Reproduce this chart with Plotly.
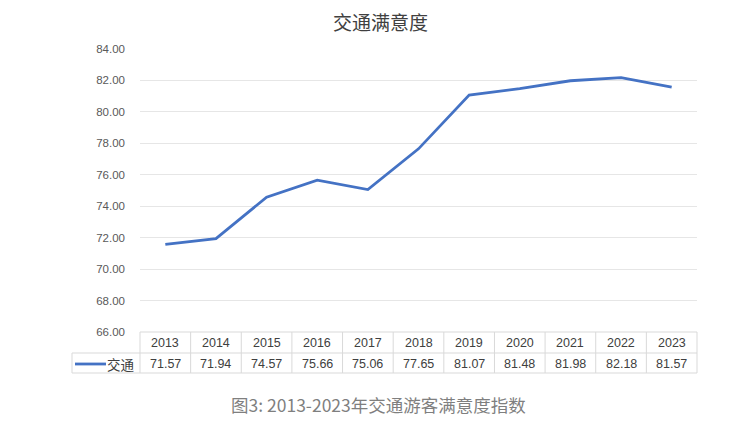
import plotly.graph_objects as go

years = ["2013", "2014", "2015", "2016", "2017", "2018", "2019", "2020", "2021", "2022", "2023"]
values = [71.57, 71.94, 74.57, 75.66, 75.06, 77.65, 81.07, 81.48, 81.98, 82.18, 81.57]
series_name = "交通"
y_ticks = [66, 68, 70, 72, 74, 76, 78, 80, 82, 84]
title_text = "交通满意度"
caption_text = "图3: 2013-2023年交通游客满意度指数"

LINE = "#4472C4"
BORDER = "#d9d9d9"
TXT = "#404040"
CJK = "Noto Sans CJK SC"
NUM = "Liberation Sans"

OFF = 8  # page body margin
W, H = 751 - OFF, 426 - OFF
# plot area in page pixels
PL, PR, PT, PB = 140, 697, 49, 332
L, T = PL - OFF, PT - OFF
R = W - (PR - OFF)
B = H - (PB - OFF)
plot_h = PB - PT
plot_w = PR - PL


def py(p):
    return (PB - p) / plot_h


def px(p):
    return (p - PL) / plot_w


fig = go.Figure()
fig.add_trace(go.Scatter(x=years, y=values, mode="lines", name=series_name,
                         line=dict(color=LINE, width=2.8), showlegend=False,
                         hoverinfo="x+y"))

shapes = []
n = len(years)
y_top, y_mid, y_bot = 0, py(353), py(373)
legend_left = px(72)
shapes.append(dict(type="line", xref="paper", yref="paper", x0=0, x1=1, y0=y_top, y1=y_top,
                   line=dict(color=BORDER, width=1)))
for yy in (y_mid, y_bot):
    shapes.append(dict(type="line", xref="paper", yref="paper", x0=legend_left, x1=1, y0=yy, y1=yy,
                       line=dict(color=BORDER, width=1)))
for i in range(n + 1):
    xx = i / n
    shapes.append(dict(type="line", xref="paper", yref="paper", x0=xx, x1=xx, y0=y_top, y1=y_bot,
                       line=dict(color=BORDER, width=1)))
shapes.append(dict(type="line", xref="paper", yref="paper", x0=legend_left, x1=legend_left,
                   y0=y_mid, y1=y_bot, line=dict(color=BORDER, width=1)))
shapes.append(dict(type="line", xref="paper", yref="paper", x0=px(75), x1=px(106),
                   y0=py(364), y1=py(364), line=dict(color=LINE, width=2.8)))

annotations = []
for i, (yr, v) in enumerate(zip(years, values)):
    annotations.append(dict(x=i, xref="x", y=py(343), yref="paper", text=yr, showarrow=False,
                            font=dict(family=NUM, size=12.5, color=TXT), xanchor="center", yanchor="middle"))
    annotations.append(dict(x=i, xref="x", y=py(364), yref="paper", text=f"{v:.2f}", showarrow=False,
                            font=dict(family=NUM, size=12.5, color=TXT), xanchor="center", yanchor="middle"))
annotations.append(dict(x=px(137), xref="paper", y=py(364), yref="paper", text=series_name, showarrow=False,
                        font=dict(family=CJK, size=13.5, color=TXT), xanchor="right", yanchor="middle"))
annotations.append(dict(x=px(378), xref="paper", y=py(404), yref="paper", text=caption_text, showarrow=False,
                        font=dict(family=CJK, size=17.5, color="#7f7f7f"), xanchor="center", yanchor="middle"))
annotations.append(dict(x=px(380), xref="paper", y=py(22), yref="paper", text=title_text, showarrow=False,
                        font=dict(family=CJK, size=19, color=TXT), xanchor="center", yanchor="middle"))

fig.update_layout(
    width=W, height=H,
    margin=dict(l=L, r=R, t=T, b=B, pad=0),
    paper_bgcolor="white", plot_bgcolor="white",
    xaxis=dict(type="category", categoryorder="array", categoryarray=years, range=[-0.5, n - 0.5],
               showticklabels=False, showgrid=False, zeroline=False, showline=False, fixedrange=True),
    yaxis=dict(range=[y_ticks[0], y_ticks[-1]], tickvals=y_ticks, ticktext=[f"{t:.2f}" for t in y_ticks],
               showgrid=True, gridcolor="#e6e6e6", gridwidth=1, zeroline=False, showline=False,
               tickfont=dict(family=NUM, size=11.5, color="#595959"), ticklabelstandoff=14,
               fixedrange=True),
    shapes=shapes,
    annotations=annotations,
    showlegend=False,
)

fig.write_html("out.html")
